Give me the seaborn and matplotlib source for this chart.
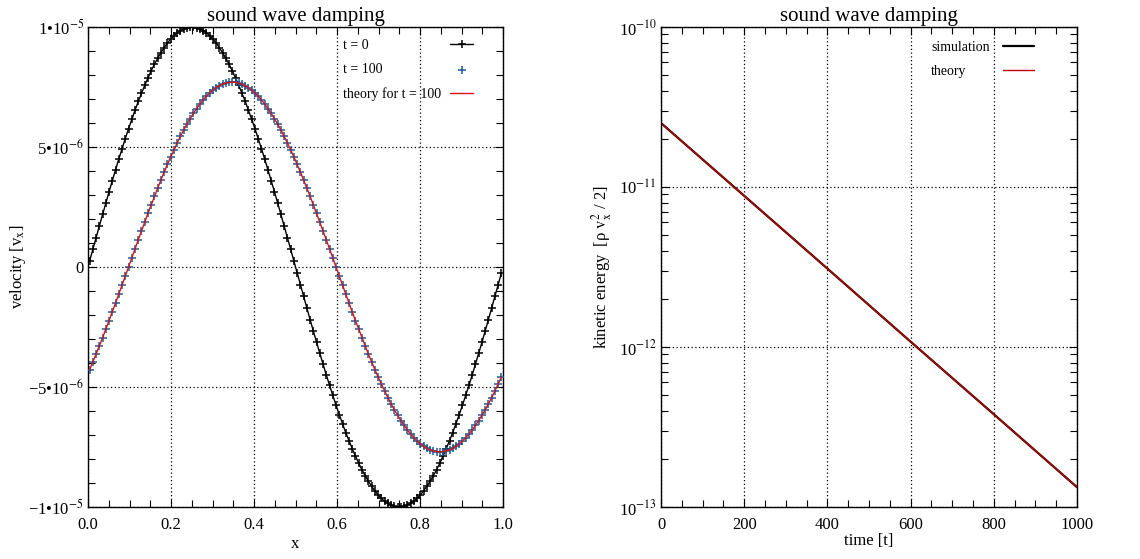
import numpy as np
import pandas as pd
import matplotlib
matplotlib.use("Agg")
import matplotlib.pyplot as plt
from matplotlib.ticker import FixedLocator, FixedFormatter, MultipleLocator, LogLocator, NullFormatter
import seaborn as sns

# ---------------------------------------------------------------------------
# data
# ---------------------------------------------------------------------------
n_cells = 128  # grid resolution of the 1-d box

# v_x at t = 0, units of 1e-6, one value per cell centre
vel_t0 = [
    0.25, 0.74, 1.22, 1.71, 2.19, 2.67, 3.14, 3.60, 4.05, 4.50, 4.93, 5.35, 5.76, 6.15, 6.53, 6.90,
    7.24, 7.57, 7.88, 8.18, 8.45, 8.70, 8.93, 9.14, 9.33, 9.50, 9.64, 9.76, 9.85, 9.92, 9.97, 10.00,
    10.00, 9.97, 9.92, 9.85, 9.76, 9.64, 9.50, 9.33, 9.14, 8.93, 8.70, 8.45, 8.18, 7.88, 7.57, 7.24,
    6.90, 6.53, 6.15, 5.76, 5.35, 4.93, 4.50, 4.05, 3.60, 3.14, 2.67, 2.19, 1.71, 1.22, 0.74, 0.25,
    -0.25, -0.74, -1.22, -1.71, -2.19, -2.67, -3.14, -3.60, -4.05, -4.50, -4.93, -5.35, -5.76, -6.15, -6.53, -6.90,
    -7.24, -7.57, -7.88, -8.18, -8.45, -8.70, -8.93, -9.14, -9.33, -9.50, -9.64, -9.76, -9.85, -9.92, -9.97, -10.00,
    -10.00, -9.97, -9.92, -9.85, -9.76, -9.64, -9.50, -9.33, -9.14, -8.93, -8.70, -8.45, -8.18, -7.88, -7.57, -7.24,
    -6.90, -6.53, -6.15, -5.76, -5.35, -4.93, -4.50, -4.05, -3.60, -3.14, -2.67, -2.19, -1.71, -1.22, -0.74, -0.25,
]

# v_x at t = 100, units of 1e-6
vel_t100 = [
    -4.28, -3.96, -3.63, -3.29, -2.95, -2.59, -2.24, -1.87, -1.50, -1.13, -0.75, -0.38,
    0.00, 0.38, 0.75, 1.13, 1.50, 1.87, 2.24, 2.59, 2.95, 3.29, 3.63, 3.96, 4.28, 4.59, 4.88,
    5.17, 5.44, 5.71, 5.95, 6.18, 6.40, 6.60, 6.79, 6.96, 7.11, 7.25, 7.37, 7.47, 7.55, 7.62,
    7.66, 7.69, 7.70,
    7.69, 7.66, 7.62, 7.55, 7.47, 7.37, 7.25, 7.11, 6.96, 6.79, 6.60, 6.40, 6.18, 5.95, 5.71,
    5.44, 5.17, 4.88, 4.59, 4.28, 3.96, 3.63, 3.29, 2.95, 2.59, 2.24, 1.87, 1.50, 1.13, 0.75,
    0.38, 0.00,
    -0.38, -0.75, -1.13, -1.50, -1.87, -2.24, -2.59, -2.95, -3.29, -3.63, -3.96, -4.28, -4.59,
    -4.88, -5.17, -5.44, -5.71, -5.95, -6.18, -6.40, -6.60, -6.79, -6.96, -7.11, -7.25, -7.37,
    -7.47, -7.55, -7.62, -7.66, -7.69, -7.70,
    -7.69, -7.66, -7.62, -7.55, -7.47, -7.37, -7.25, -7.11, -6.96, -6.79, -6.60, -6.40, -6.18,
    -5.95, -5.71, -5.44, -5.17, -4.88, -4.59,
]

# analytic damped wave at t = 100, units of 1e-6
vel_theory_t100 = list(vel_t100)

# kinetic energy history
time_points = [0, 200, 400, 600, 800, 1000]
ekin_sim = [2.51e-11, 8.81e-12, 3.09e-12, 1.08e-12, 3.80e-13, 1.33e-13]
ekin_theory = [2.51e-11, 8.81e-12, 3.09e-12, 1.08e-12, 3.80e-13, 1.33e-13]

# axis ticks and labels
x_ticks = [0.0, 0.2, 0.4, 0.6, 0.8, 1.0]
x_tick_labels = ["0.0", "0.2", "0.4", "0.6", "0.8", "1.0"]
vel_ticks = [-1e-5, -5e-6, 0.0, 5e-6, 1e-5]
vel_tick_labels = ["\u22121\u202210$^{-5}$", "\u22125\u202210$^{-6}$", "0",
                   "5\u202210$^{-6}$", "1\u202210$^{-5}$"]
time_ticks = [0, 200, 400, 600, 800, 1000]
time_tick_labels = ["0", "200", "400", "600", "800", "1000"]
ekin_ticks = [1e-13, 1e-12, 1e-11, 1e-10]
ekin_tick_labels = ["10$^{-13}$", "10$^{-12}$", "10$^{-11}$", "10$^{-10}$"]

# ---------------------------------------------------------------------------
# style
# ---------------------------------------------------------------------------
sns.set_style("ticks")
plt.rcParams.update({
    "font.family": ["Liberation Serif", "DejaVu Serif"],
    "mathtext.fontset": "stix",
    "axes.linewidth": 1.0,
    "axes.edgecolor": "black",
    "xtick.direction": "in",
    "ytick.direction": "in",
    "xtick.top": True,
    "ytick.right": True,
    "xtick.color": "black",
    "ytick.color": "black",
    "text.color": "black",
    "axes.labelcolor": "black",
})

BLUE = "#1f5c99"
RED = "#e01010"
GRID_KW = dict(color="black", linestyle=(0, (1, 2)), linewidth=0.9)

fig = plt.figure(figsize=(11.4, 5.59), dpi=100)
ax1 = fig.add_axes([88 / 1140, 52 / 559, 415 / 1140, 480 / 559])
ax2 = fig.add_axes([661 / 1140, 52 / 559, 416 / 1140, 480 / 559])

x_cells = (np.arange(n_cells) + 0.5) / n_cells
df_vel = pd.DataFrame({
    "x": x_cells,
    "t0": np.array(vel_t0) * 1e-6,
    "t100": np.array(vel_t100) * 1e-6,
    "theory": np.array(vel_theory_t100) * 1e-6,
})
df_ek = pd.DataFrame({"t": time_points, "sim": ekin_sim, "theory": ekin_theory})

# ---------------------------------------------------------------------------
# left panel: velocity profiles
# ---------------------------------------------------------------------------
sns.lineplot(data=df_vel, x="x", y="t0", ax=ax1, color="black", linewidth=1.0,
             marker="+", markersize=5.5, markeredgewidth=1.1, markeredgecolor="black",
             label="t = 0")
sns.scatterplot(data=df_vel, x="x", y="t100", ax=ax1, color=BLUE, marker="+",
                s=30, linewidth=1.1, label="t = 100", zorder=3)
sns.lineplot(data=df_vel, x="x", y="theory", ax=ax1, color=RED, linewidth=1.0,
             label="theory for t = 100", zorder=4)

ax1.set_xlim(0, 1)
ax1.set_ylim(-1e-5, 1e-5)
ax1.xaxis.set_major_locator(FixedLocator(x_ticks))
ax1.xaxis.set_major_formatter(FixedFormatter(x_tick_labels))
ax1.xaxis.set_minor_locator(MultipleLocator(0.05))
ax1.yaxis.set_major_locator(FixedLocator(vel_ticks))
ax1.yaxis.set_major_formatter(FixedFormatter(vel_tick_labels))
ax1.yaxis.set_minor_locator(MultipleLocator(1e-6))
ax1.set_xlabel("x", fontsize=12, labelpad=2)
ax1.set_ylabel(r"velocity [v$_\mathrm{x}$]", fontsize=12)
ax1.yaxis.set_label_coords(-0.145, 0.5)
ax1.set_title("sound wave damping", fontsize=15, pad=4)

# ---------------------------------------------------------------------------
# right panel: kinetic energy decay
# ---------------------------------------------------------------------------
sns.lineplot(data=df_ek, x="t", y="sim", ax=ax2, color="black", linewidth=1.6,
             label="simulation")
sns.lineplot(data=df_ek, x="t", y="theory", ax=ax2, color="#c00000", linewidth=1.0,
             label="theory")
ax2.set_yscale("log")
ax2.set_xlim(0, 1000)
ax2.set_ylim(1e-13, 1e-10)
ax2.xaxis.set_major_locator(FixedLocator(time_ticks))
ax2.xaxis.set_major_formatter(FixedFormatter(time_tick_labels))
ax2.xaxis.set_minor_locator(MultipleLocator(50))
ax2.yaxis.set_major_locator(FixedLocator(ekin_ticks))
ax2.yaxis.set_major_formatter(FixedFormatter(ekin_tick_labels))
ax2.yaxis.set_minor_locator(LogLocator(base=10, subs=np.arange(2, 10), numticks=10))
ax2.yaxis.set_minor_formatter(NullFormatter())
ax2.set_xlabel("time [t]", fontsize=12, labelpad=0)
ax2.set_ylabel("kinetic energy  [\u03c1 $\\mathrm{v}_\\mathrm{x}^{2}$ / 2]", fontsize=12)
ax2.yaxis.set_label_coords(-0.113, 0.5)
ax2.set_title("sound wave damping", fontsize=15, pad=4)

for ax in (ax1, ax2):
    ax.grid(True, which="major", **GRID_KW)
    ax.set_axisbelow(True)
    ax.tick_params(which="major", length=6, width=0.8, labelsize=12)
    ax.tick_params(which="minor", length=5, width=0.8)
    ax.tick_params(axis="x", which="major", pad=7)
    ax.tick_params(axis="y", which="major", pad=3)
    for s in ax.spines.values():
        s.set_linewidth(1.0)

leg1 = ax1.legend(loc="upper right", bbox_to_anchor=(0.941, 0.986), borderaxespad=0,
                  frameon=False, fontsize=10, markerfirst=False, handlelength=1.65,
                  handletextpad=0.65, labelspacing=0.8)
leg2 = ax2.legend(loc="upper right", bbox_to_anchor=(0.910, 0.982), borderaxespad=0,
                  frameon=False, fontsize=10, markerfirst=False, handlelength=2.2,
                  handletextpad=1.0, labelspacing=0.75)


def left_align_legend_text(leg):
    """Pad each legend row so the labels share a left edge and handles a right edge."""
    fig.canvas.draw()
    renderer = fig.canvas.get_renderer()
    widths = [t.get_window_extent(renderer).width for t in leg.get_texts()]
    wmax = max(widths)
    column = leg._legend_handle_box.get_children()[0]
    for row, w in zip(column.get_children(), widths):
        row.sep += (wmax - w) * 72.0 / fig.dpi


left_align_legend_text(leg1)
left_align_legend_text(leg2)

fig.savefig("out.png", dpi=100)
